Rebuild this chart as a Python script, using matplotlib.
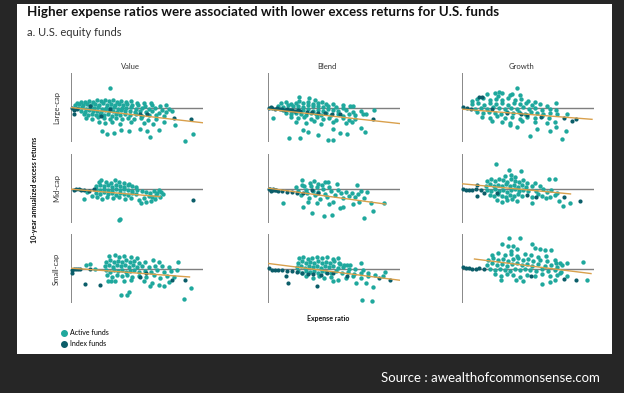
import matplotlib
matplotlib.use("Agg")
import matplotlib.pyplot as plt
from matplotlib.patches import Rectangle
from matplotlib.lines import Line2D

plt.rcParams['font.family'] = ['Lato', 'DejaVu Sans']

W, H = 624, 393

columns = ['Value', 'Blend', 'Growth']
rows = ['Large-cap', 'Mid-cap', 'Small-cap']

# (expense ratio %, 10-yr annualized excess return %)
value_large_active = [
    (0.12, 0.9), (0.2, 1.1), (0.28, 1.0), (0.36, 1.3), (0.44, 1.1), (0.52, 1.4), (0.6, 1.2), (0.68, 1.5),
    (0.76, 1.2), (0.84, 1.4), (0.92, 1.1), (1.0, 1.3), (1.1, 1.0), (1.2, 1.2), (1.32, 0.9), (1.45, 0.8), (1.6, 0.9),
    (0.08, 0.4), (0.16, 0.6), (0.24, 0.5), (0.32, 0.7), (0.4, 0.4), (0.48, 0.6), (0.56, 0.5), (0.64, 0.8),
    (0.72, 0.5), (0.8, 0.7), (0.88, 0.4), (0.96, 0.6), (1.04, 0.5), (1.12, 0.7), (1.22, 0.4), (1.34, 0.5),
    (1.48, 0.3), (1.62, 0.4), (1.78, 0.2), (1.9, 0.5),
    (0.14, -0.1), (0.22, 0.1), (0.3, -0.2), (0.38, 0.0), (0.46, -0.1), (0.54, 0.1), (0.62, -0.2), (0.7, 0.0),
    (0.78, -0.1), (0.86, 0.1), (0.94, -0.2), (1.02, 0.0), (1.1, -0.1), (1.2, 0.1), (1.3, -0.2), (1.42, 0.0),
    (1.55, -0.3), (1.68, -0.1), (1.82, -0.4), (1.96, -0.2),
    (0.2, -0.6), (0.28, -0.8), (0.36, -0.5), (0.44, -0.7), (0.52, -0.6), (0.6, -0.9), (0.68, -0.5), (0.76, -0.7),
    (0.84, -0.6), (0.92, -0.8), (1.0, -0.5), (1.08, -0.7), (1.18, -0.6), (1.28, -0.9), (1.38, -0.6), (1.5, -0.8),
    (1.62, -0.7), (1.75, -1.0), (1.9, -0.9), (2.02, -0.7),
    (0.26, -1.2), (0.34, -1.4), (0.42, -1.3), (0.5, -1.5), (0.58, -1.2), (0.66, -1.4), (0.74, -1.3), (0.82, -1.6),
    (0.9, -1.2), (0.98, -1.4), (1.08, -1.3), (1.18, -1.5), (1.3, -1.3), (1.42, -1.6), (1.56, -1.4), (1.7, -1.5),
    (1.85, -1.7),
    (0.3, -2.0), (0.42, -2.2), (0.54, -1.9), (0.66, -2.1), (0.78, -2.3), (0.9, -2.0), (1.02, -2.2), (1.14, -2.0),
    (1.26, -2.3), (1.4, -2.1), (1.54, -2.4), (1.7, -2.2),
    (0.55, -2.9), (0.68, -3.1), (0.82, -2.8), (0.98, -3.2), (1.2, -2.9), (1.45, -3.0), (1.64, -3.3),
    (0.77, 3.9), (2.28, -6.7), (2.43, -5.2), (2.08, -3.4), (1.75, -4.5), (1.58, -5.9), (1.15, -4.7), (0.71, -5.2),
    (0.61, -4.7), (1.38, -4.2), (1.51, -4.7), (1.85, -2.9), (0.85, -5.0), (1.0, -4.4),
]
value_large_index = [
    (0.01, 0.0), (0.05, -0.4), (0.05, -1.3), (0.11, -0.2), (0.37, 0.3), (0.6, -1.6), (0.78, -0.3),
    (1.38, -1.3), (1.51, -1.2), (2.05, -2.0), (2.39, -2.3),
]
value_large_trend = [(0.0, 0.0), (2.63, -3.0)]

blend_large_active = [
    (0.25, 0.8), (0.35, 1.0), (0.45, 0.7), (0.55, 0.9), (0.7, 0.8), (0.8, 1.1), (0.9, 0.7), (1.0, 0.8),
    (1.15, 0.6), (1.3, 0.7), (1.5, 0.5),
    (0.2, 0.3), (0.3, 0.1), (0.4, 0.4), (0.5, 0.2), (0.6, 0.3), (0.7, 0.1), (0.8, 0.4), (0.9, 0.2), (1.0, 0.3),
    (1.1, 0.1), (1.2, 0.3), (1.35, 0.1), (1.5, 0.0), (1.65, 0.2),
    (0.3, -0.5), (0.4, -0.3), (0.5, -0.6), (0.6, -0.3), (0.7, -0.5), (0.8, -0.2), (0.9, -0.6), (1.0, -0.4),
    (1.1, -0.6), (1.2, -0.3), (1.3, -0.5), (1.4, -0.7), (1.55, -0.5), (1.7, -0.8), (1.85, -0.6),
    (0.35, -1.1), (0.45, -1.3), (0.55, -1.0), (0.65, -1.2), (0.75, -1.4), (0.85, -1.1), (0.95, -1.3),
    (1.05, -1.5), (1.15, -1.1), (1.25, -1.4), (1.4, -1.2), (1.5, -1.6), (1.62, -1.3), (1.75, -1.5), (1.9, -1.2),
    (0.45, -1.9), (0.6, -2.1), (0.72, -1.8), (0.85, -2.2), (0.98, -1.9), (1.1, -2.3), (1.22, -2.0), (1.35, -2.4),
    (1.5, -2.1), (1.62, -2.5), (1.75, -2.2),
    (0.55, -2.8), (0.75, -3.0), (0.92, -2.7), (1.05, -3.2), (1.3, -2.9), (1.55, -3.1), (1.68, -2.8),
    (0.61, 2.1), (0.82, 1.9), (0.93, 1.5), (1.07, 1.0), (0.62, 1.2), (1.71, 0.3), (2.13, -0.5), (1.97, -1.3),
    (1.85, -4.0), (1.95, -4.8), (1.57, -5.3), (1.43, -5.1), (1.29, -4.3), (1.0, -5.5), (0.7, -4.5), (0.8, -4.8),
    (0.42, -6.0), (0.64, -6.1), (1.2, -6.5), (1.3, -6.5), (0.1, -2.1),
]
blend_large_index = [
    (0.02, 0.0), (0.05, 0.1), (0.07, -0.1), (0.13, -0.2), (0.17, -0.1), (0.23, -0.3), (0.28, -0.2),
    (0.33, -0.5), (0.38, -0.3), (0.43, -0.5), (0.48, -0.4), (0.53, -0.7), (0.6, -0.5), (0.63, -0.7),
    (0.77, -0.8), (0.87, -0.9), (1.0, -1.0), (1.13, -1.1), (1.27, -1.2), (1.43, -1.3), (2.1, -2.3),
]
blend_large_trend = [(0.0, -0.33), (2.67, -3.2)]

growth_large_active = [
    (0.5, 2.6), (0.65, 2.9), (0.8, 2.8), (0.95, 2.5), (0.72, 2.3), (1.0, 2.7),
    (0.3, 1.6), (0.42, 1.8), (0.55, 1.5), (0.68, 1.7), (0.8, 1.4), (0.92, 1.8), (1.05, 1.5), (1.18, 1.7),
    (1.32, 1.3), (1.45, 1.0), (0.2, 1.2),
    (0.2, 0.6), (0.32, 0.8), (0.44, 0.5), (0.56, 0.9), (0.68, 0.6), (0.8, 0.8), (0.92, 0.5), (1.04, 0.9),
    (1.16, 0.6), (1.28, 0.8), (1.4, 0.5), (1.55, 0.7), (1.7, 0.3),
    (0.25, -0.2), (0.38, 0.0), (0.5, -0.3), (0.62, 0.1), (0.74, -0.1), (0.86, -0.3), (0.98, 0.0), (1.1, -0.2),
    (1.22, 0.1), (1.34, -0.3), (1.46, -0.1), (1.6, -0.4), (1.75, -0.2), (1.88, -0.5),
    (0.3, -0.9), (0.42, -1.1), (0.54, -0.8), (0.66, -1.0), (0.78, -1.2), (0.9, -0.8), (1.02, -1.1), (1.14, -0.9),
    (1.26, -1.2), (1.38, -0.9), (1.5, -1.1), (1.62, -1.3), (1.76, -1.0), (1.9, -1.2),
    (0.4, -1.8), (0.55, -2.0), (0.7, -1.7), (0.85, -2.1), (1.0, -1.8), (1.15, -2.2), (1.3, -1.9), (1.45, -2.1),
    (1.6, -1.7), (1.74, -2.0),
    (0.6, -2.6), (0.8, -2.9), (0.95, -3.0), (1.2, -2.7), (1.45, -2.9), (1.7, -3.0),
    (1.1, 3.8), (0.73, 3.0), (1.16, 2.5), (1.87, 0.9), (2.1, -1.3), (1.35, -5.7), (2.0, -6.2), (1.75, -4.7),
    (2.08, -4.7), (1.85, -2.9), (1.88, -3.9), (1.5, -4.2), (1.1, -3.9), (0.95, -3.5),
]
growth_large_index = [
    (0.02, 0.1), (0.1, -0.1), (0.17, -0.2), (0.33, 2.0), (0.4, 2.0), (0.6, -0.2), (0.89, -1.1), (1.17, -1.2),
    (1.3, -1.5), (1.57, -1.9), (2.03, -2.0), (2.2, -2.7), (2.28, -2.3),
]
growth_large_trend = [(0.0, -0.33), (2.6, -2.33)]

value_mid_active = [
    (0.55, 1.3), (0.6, 1.6), (0.88, 1.6), (0.7, 1.2), (0.8, 1.1), (0.95, 1.3), (1.05, 1.0), (1.15, 0.9),
    (0.5, 0.5), (0.58, 0.7), (0.66, 0.4), (0.74, 0.6), (0.82, 0.3), (0.9, 0.7), (0.98, 0.5), (1.06, 0.3),
    (1.14, 0.6), (1.22, 0.4), (1.3, 0.2),
    (0.5, -0.1), (0.58, -0.3), (0.66, 0.0), (0.74, -0.2), (0.82, -0.4), (0.9, -0.1), (0.98, -0.3), (1.06, 0.0),
    (1.14, -0.2), (1.22, -0.4), (1.32, -0.2), (1.42, -0.5),
    (0.5, -0.8), (0.58, -1.0), (0.66, -0.7), (0.74, -1.1), (0.82, -0.9), (0.9, -1.2), (0.98, -0.8), (1.06, -1.0),
    (1.14, -1.2), (1.22, -0.9), (1.3, -1.1),
    (0.52, -1.7), (0.62, -2.0), (0.72, -1.6), (0.84, -1.9), (0.96, -1.7), (1.08, -2.1), (1.2, -1.8), (1.35, -2.2),
    (1.5, -0.6), (1.58, -0.9), (1.65, -0.4), (1.72, -0.8), (1.8, -0.6), (1.55, -1.4), (1.62, -1.7), (1.7, -1.3),
    (1.78, -1.6), (1.84, -1.1), (1.68, -2.1), (1.6, -2.4), (1.45, -1.8), (1.76, -0.2), (1.5, -2.6), (1.4, -2.8),
    (0.25, -2.0), (0.41, -1.5), (0.31, -0.6), (0.95, -6.3), (0.98, -6.1),
]
value_mid_index = [
    (0.05, -0.3), (0.1, 0.0), (0.15, -0.1), (0.2, -0.2), (0.25, -0.3), (0.35, -0.4), (0.45, -0.1), (2.43, -2.3),
]
value_mid_trend = [(0.0, -0.13), (1.78, -1.6)]

blend_mid_active = [
    (0.67, 1.7), (0.67, 0.7), (0.83, 1.1), (0.91, 1.4), (1.0, 0.9), (1.13, 1.3), (1.2, 1.2), (1.37, 0.9),
    (1.78, 0.7), (1.99, -0.7), (0.29, -2.8), (0.7, -3.6), (0.88, -4.9), (1.11, -5.4), (1.27, -5.3), (1.43, -3.8),
    (1.5, -3.7), (1.7, -3.0), (1.82, -2.7), (2.07, -2.9), (2.11, -4.4), (1.93, -5.9), (2.33, -2.9),
    (0.55, 0.2), (0.6, -0.5), (0.65, -1.2), (0.72, 0.4), (0.75, -0.2), (0.78, -0.9), (0.82, -1.8), (0.86, 0.5),
    (0.9, -0.4), (0.94, -1.3), (0.97, 0.2), (1.0, -0.7), (1.04, -2.1), (1.07, 0.6), (1.1, -0.1), (1.14, -1.0),
    (1.18, -1.7), (1.22, 0.3), (1.26, -0.5), (1.3, -2.6), (1.34, -1.2), (1.4, -0.3), (1.45, -0.9), (1.5, -1.8),
    (1.55, -0.6), (1.62, -1.4), (1.68, -0.8), (1.74, -1.6), (1.8, -1.1), (1.86, -0.5), (1.92, -1.9),
    (0.98, -2.8), (0.8, -2.6), (1.22, -3.0),
]
blend_mid_index = [
    (0.02, -0.1), (0.03, 0.0), (0.05, -0.4), (0.09, -0.3), (0.1, -0.1), (0.13, -0.3), (0.16, -0.2), (0.2, -0.4),
    (0.27, -0.5), (0.37, -0.6), (0.47, -0.7), (0.57, -0.8), (0.7, -0.9), (0.87, -0.3), (1.0, -0.8),
]
blend_mid_trend = [(0.0, 0.07), (2.35, -3.07)]

growth_mid_active = [
    (0.67, 4.8), (0.93, 3.7), (0.97, 2.7), (1.18, 3.4), (0.85, 2.5), (1.05, 2.2),
    (0.5, 1.4), (0.58, 1.8), (0.66, 1.5), (0.74, 1.9), (0.82, 1.6), (0.9, 1.3), (0.98, 1.8), (1.06, 1.5),
    (1.14, 1.2), (1.22, 1.6), (1.3, 1.0),
    (0.48, 0.5), (0.56, 0.8), (0.64, 0.4), (0.72, 0.7), (0.8, 0.5), (0.88, 0.9), (0.96, 0.4), (1.04, 0.7),
    (1.12, 0.3), (1.2, 0.6), (1.28, 0.2), (1.4, 0.4),
    (0.5, -0.2), (0.58, -0.5), (0.66, -0.1), (0.74, -0.4), (0.82, -0.2), (0.9, -0.6), (0.98, -0.3), (1.06, -0.1),
    (1.14, -0.5), (1.22, -0.2), (1.32, -0.4),
    (0.55, -1.2), (0.64, -1.5), (0.72, -1.1), (0.8, -1.4), (0.88, -1.7), (0.96, -1.2), (1.04, -1.5), (1.12, -1.1),
    (1.2, -1.4),
    (0.7, -2.2), (0.8, -2.6), (0.9, -2.3), (1.0, -2.0), (1.1, -2.5),
    (1.45, 1.0), (1.55, 0.5), (1.62, -0.1), (1.7, -0.6), (1.78, -0.3), (1.52, -1.0), (1.6, -1.4), (1.68, -1.9),
    (1.76, -1.6), (1.85, -1.2), (1.4, -1.6), (1.48, -0.4), (1.73, 1.9), (1.85, 1.9), (1.93, -2.5), (2.02, -3.5),
    (2.15, -2.8), (1.39, -2.9), (1.9, -0.8),
]
growth_mid_index = [
    (0.02, -0.1), (0.07, -0.3), (0.13, -0.2), (0.2, -0.3), (0.27, -0.1), (0.3, 0.7), (0.37, -0.3), (0.3, -1.5),
    (0.43, -0.9), (0.7, -0.8), (1.3, -1.3), (1.47, -1.6), (2.03, -1.7), (2.35, -2.4),
]
growth_mid_trend = [(0.0, 0.93), (2.17, -1.07)]

value_small_active = [
    (0.75, 2.4), (0.88, 2.6), (0.95, 2.2), (1.05, 2.5), (1.2, 2.3), (1.32, 2.0),
    (0.7, 1.3), (0.78, 1.6), (0.86, 1.2), (0.94, 1.5), (1.02, 1.2), (1.1, 1.6), (1.18, 1.3), (1.26, 1.5),
    (1.36, 1.1), (1.48, 1.2),
    (0.68, 0.4), (0.76, 0.7), (0.84, 0.3), (0.92, 0.6), (1.0, 0.4), (1.08, 0.7), (1.16, 0.3), (1.24, 0.6),
    (1.32, 0.2), (1.42, 0.5), (1.55, 0.3), (1.68, 0.5), (1.82, 0.4), (1.95, 0.2),
    (0.7, -0.3), (0.78, -0.6), (0.86, -0.2), (0.94, -0.5), (1.02, -0.3), (1.1, -0.7), (1.18, -0.4), (1.26, -0.2),
    (1.36, -0.6), (1.48, -0.4), (1.6, -0.7), (1.72, -0.3), (1.85, -0.6), (2.0, -0.4), (2.12, -0.2),
    (0.72, -1.3), (0.82, -1.6), (0.92, -1.2), (1.02, -1.5), (1.12, -1.3), (1.22, -1.7), (1.35, -1.4), (1.5, -1.6),
    (1.65, -1.3), (1.78, -1.8), (1.92, -1.4), (2.05, -1.7),
    (1.05, -2.4), (1.2, -2.2), (1.45, -2.5), (1.62, -2.8), (1.75, -3.3), (1.85, -3.5), (1.58, -3.4), (1.95, -2.6),
    (1.0, -5.3), (1.11, -5.3), (1.15, -4.7), (2.25, -6.0), (2.39, -3.9), (2.13, 1.3), (1.75, 1.3), (1.63, 1.7),
    (0.3, 0.7), (0.37, 0.8), (0.47, 0.0), (0.73, -2.5), (0.8, -2.5), (0.87, -2.5),
]
value_small_index = [
    (0.02, -0.2), (0.02, -0.9), (0.06, -0.1), (0.1, -0.1), (0.13, 0.0), (0.18, -0.1), (0.27, -3.0),
    (0.57, -3.3), (0.37, -0.1), (1.37, -1.7), (1.5, -0.9), (2.02, -2.3), (2.27, -2.2),
]
value_small_trend = [(0.0, 0.07), (2.37, -1.67)]

blend_small_active = [
    (0.62, 2.0), (0.7, 2.2), (0.8, 1.9), (0.88, 2.1), (0.98, 2.3), (1.08, 2.0), (1.18, 2.2), (1.3, 1.9), (1.4, 2.1),
    (0.6, 1.1), (0.68, 1.4), (0.76, 1.0), (0.84, 1.3), (0.92, 1.1), (1.0, 1.4), (1.08, 1.0), (1.16, 1.3),
    (1.24, 1.1), (1.32, 1.4), (1.42, 1.0), (1.52, 0.7), (1.65, 0.6),
    (0.58, 0.2), (0.66, 0.5), (0.74, 0.1), (0.82, 0.4), (0.9, 0.2), (0.98, 0.5), (1.06, 0.1), (1.14, 0.4),
    (1.22, 0.2), (1.3, 0.5), (1.4, 0.1), (1.5, 0.3), (1.62, 0.0), (1.75, -0.1), (1.9, -0.2),
    (0.6, -0.5), (0.68, -0.8), (0.76, -0.4), (0.84, -0.7), (0.92, -0.5), (1.0, -0.8), (1.08, -0.4), (1.16, -0.6),
    (1.26, -0.9), (1.36, -0.5), (1.48, -0.8), (1.6, -0.6), (1.72, -1.0), (1.85, -0.8), (2.0, -0.9),
    (0.75, -1.5), (0.9, -1.8), (1.02, -1.4), (1.12, -1.9), (1.25, -1.6), (1.4, -2.2), (1.55, -1.8), (1.7, -1.4),
    (1.85, -1.9), (2.0, -1.5), (2.15, -1.3),
    (1.87, -6.2), (2.09, -6.4), (1.77, -2.9), (1.97, -2.9), (2.11, -3.7), (2.35, -0.7), (1.85, 1.1), (1.43, 0.8),
    (1.57, 0.6), (2.3, -1.5), (1.3, -2.4),
]
blend_small_index = [
    (0.02, 0.1), (0.07, -0.2), (0.13, -0.3), (0.2, -0.2), (0.27, -0.3), (0.37, -0.5), (0.47, -0.5), (0.57, -0.7),
    (0.67, -0.9), (0.35, -1.5), (0.4, -2.9), (0.98, -3.4), (1.17, -0.9), (1.3, -0.9), (1.57, -1.4), (2.45, -2.3),
    (2.23, -1.9), (0.8, -1.0), (0.9, -1.1), (1.05, -1.2),
]
blend_small_trend = [(0.0, 1.0), (2.65, -2.33)]

growth_small_active = [
    (0.93, 6.1), (1.15, 6.1), (0.8, 4.8), (0.92, 4.5), (1.02, 4.5), (1.39, 4.9), (1.45, 4.1), (1.55, 3.8),
    (1.65, 3.7), (1.77, 3.6), (1.1, 3.9), (0.98, 3.4),
    (0.6, 2.7), (0.72, 3.0), (0.85, 2.6), (0.98, 2.9), (1.1, 2.5), (1.25, 2.8), (1.38, 2.6), (1.52, 2.3), (1.68, 2.5),
    (0.52, 1.7), (0.62, 2.0), (0.72, 1.6), (0.82, 1.9), (0.92, 1.5), (1.02, 1.8), (1.12, 2.0), (1.22, 1.6),
    (1.32, 1.9), (1.42, 1.5), (1.55, 1.7), (1.7, 1.4), (1.85, 1.6), (1.95, 1.1), (2.1, 1.0),
    (0.5, 0.7), (0.6, 1.0), (0.7, 0.6), (0.8, 0.9), (0.9, 0.5), (1.0, 0.8), (1.1, 1.0), (1.2, 0.6), (1.3, 0.9),
    (1.4, 0.5), (1.52, 0.8), (1.65, 0.4), (1.78, 0.7), (1.9, 0.3), (2.0, 0.6),
    (0.55, -0.1), (0.65, -0.3), (0.75, 0.0), (0.85, -0.2), (0.95, -0.4), (1.05, -0.1), (1.15, -0.3), (1.25, 0.0),
    (1.35, -0.2), (1.48, -0.5), (1.6, -0.1), (1.72, -0.4), (1.85, -0.2), (1.98, -0.6),
    (0.65, -1.1), (0.78, -1.4), (0.9, -1.0), (1.02, -1.3), (1.15, -1.6), (1.3, -1.2), (1.45, -1.5), (1.6, -1.1),
    (1.75, -1.4), (1.9, -1.2),
    (0.78, -2.2), (1.08, -2.3), (1.22, -2.5), (1.75, -2.7), (1.6, -3.0), (1.85, -2.2),
    (2.42, 1.3), (1.87, 1.1), (1.95, -0.9), (2.1, -1.5), (2.5, -2.2),
]
growth_small_index = [
    (0.02, 0.3), (0.07, 0.1), (0.13, 0.1), (0.2, -0.1), (0.27, 0.0), (0.33, 0.1), (0.43, 0.0), (1.37, -1.5),
    (2.03, -2.1), (2.27, -2.2),
]
growth_small_trend = [(0.25, 1.87), (2.58, -1.0)]

panels = [
    [(value_large_active, value_large_index, value_large_trend),
     (blend_large_active, blend_large_index, blend_large_trend),
     (growth_large_active, growth_large_index, growth_large_trend)],
    [(value_mid_active, value_mid_index, value_mid_trend),
     (blend_mid_active, blend_mid_index, blend_mid_trend),
     (growth_mid_active, growth_mid_index, growth_mid_trend)],
    [(value_small_active, value_small_index, value_small_trend),
     (blend_small_active, blend_small_index, blend_small_trend),
     (growth_small_active, growth_small_index, growth_small_trend)],
]

ACTIVE = '#1fa89d'
INDEX = '#0b5d69'
TREND = '#d9a04c'
AXIS = '#7f7f7f'

fig = plt.figure(figsize=(W / 100, H / 100), dpi=100)
fig.patch.set_facecolor('#262626')
fig.patches.append(Rectangle((17 / W, 1 - 354 / H), 595 / W, 350 / H, transform=fig.transFigure,
                             facecolor='white', edgecolor='none', zorder=-5))

col_left = [71, 268, 462]
row_top = [73, 154, 234]
pw, ph = 132, 69

for r in range(3):
    for c in range(3):
        ax = fig.add_axes([col_left[c] / W, 1 - (row_top[r] + ph) / H, pw / W, ph / H])
        ax.set_zorder(1)
        ax.set_xlim(0, 2.64)
        ax.set_ylim(-6.8, 6.8)
        ax.axis('off')
        ax.axhline(0, color=AXIS, lw=1.0, zorder=1)
        ax.axvline(0, color=AXIS, lw=1.3, zorder=1)
        act, idx, tr = panels[r][c]
        ax.scatter([p[0] for p in act], [p[1] for p in act], s=10, color=ACTIVE, linewidths=0, zorder=2,
                   clip_on=False)
        ax.scatter([p[0] for p in idx], [p[1] for p in idx], s=9, color=INDEX, linewidths=0, zorder=3,
                   clip_on=False)
        ax.plot([p[0] for p in tr], [p[1] for p in tr], color=TREND, lw=1.0, zorder=4)
        if r == 0:
            ax.text(0.45, 1.1, columns[c], transform=ax.transAxes, ha='center', va='center',
                    fontsize=5.5, color='#333333')
        if c == 0:
            ax.text(-0.11, 0.5, rows[r], transform=ax.transAxes, ha='center', va='center',
                    rotation=90, fontsize=5.5, color='#333333')

fig.text(27 / W, 1 - 12 / H, 'Higher expense ratios were associated with lower excess returns for U.S. funds',
         ha='left', va='center', fontsize=9.6, fontweight='bold', color='#111111')
fig.text(27 / W, 1 - 33 / H, 'a. U.S. equity funds', ha='left', va='center', fontsize=8, color='#333333')
fig.text(35 / W, 1 - 190 / H, '10-year annualized excess returns', ha='center', va='center', rotation=90,
         fontsize=5, fontweight='bold', color='#111111')
fig.text(328 / W, 1 - 318 / H, 'Expense ratio', ha='center', va='center', fontsize=5,
         fontweight='bold', color='#111111')

handles = [Line2D([], [], marker='o', ls='none', markersize=4, color=ACTIVE),
           Line2D([], [], marker='o', ls='none', markersize=4, color=INDEX)]
fig.legend(handles, ['Active funds', 'Index funds'], loc='upper left',
           bbox_to_anchor=(57 / W, 1 - 326 / H), frameon=False, fontsize=5,
           handletextpad=0.4, labelspacing=0.5, borderpad=0, handlelength=1)

fig.text(600 / W, 1 - 378 / H, 'Source : awealthofcommonsense.com', ha='right', va='center',
         fontsize=9.5, color='white')

fig.savefig('out.png', dpi=100, facecolor=fig.get_facecolor())
